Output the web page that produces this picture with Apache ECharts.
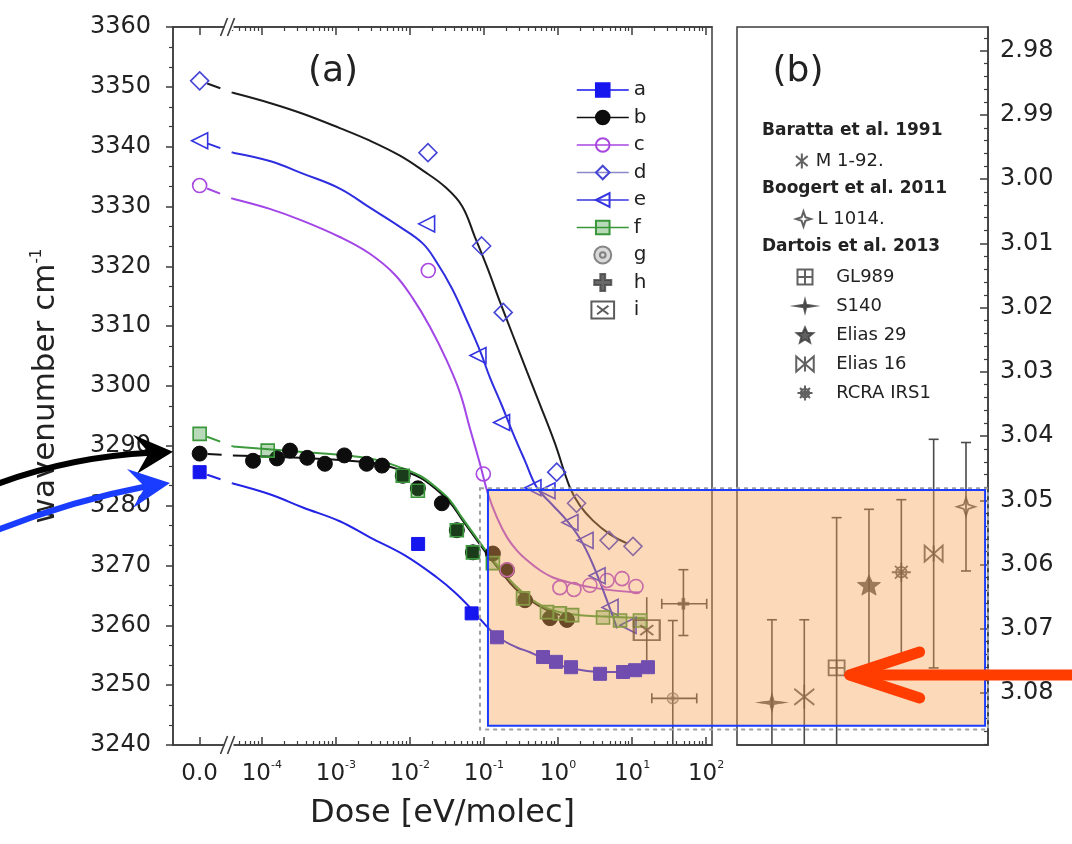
<!DOCTYPE html>
<html>
<head>
<meta charset="utf-8">
<script src="https://cdn.jsdelivr.net/npm/echarts@6/dist/echarts.min.js"></script>
<style>
  html, body { margin: 0; padding: 0; background: #fff; }
  #chart { width: 1072px; height: 844px; }
</style>
</head>
<body>
<div id="chart"></div>
<script>
// ---------- Panel (a): 3 µm band position versus irradiation dose ----------
// Measured points (dose in eV/molec, 0 = unirradiated ice; wavenumber in cm^-1)
const doseA = [0, 0.0129, 0.0682, 0.150, 0.627, 0.94, 1.50, 3.70, 7.55, 11.0, 16.4];
const wnA   = [3285.6, 3273.6, 3262.0, 3258.0, 3254.7, 3253.9, 3253.0, 3251.9, 3252.2, 3252.5, 3253.0];

const doseB = [0, 7.6e-5, 1.6e-4, 2.4e-4, 4.1e-4, 7.1e-4, 1.3e-3, 2.6e-3, 4.2e-3, 8.0e-3, 0.0128, 0.027, 0.043, 0.071, 0.132, 0.205, 0.358, 0.78, 1.32];
const wnB   = [3288.7, 3287.5, 3287.9, 3289.2, 3288.0, 3287.0, 3288.4, 3287.0, 3286.7, 3285.0, 3282.9, 3280.4, 3275.9, 3272.2, 3272.0, 3269.2, 3264.2, 3261.2, 3260.9];

const doseC = [0, 0.0177, 0.098, 0.205, 1.06, 1.64, 2.70, 4.59, 7.33, 11.3];
const wnC   = [3333.5, 3319.3, 3285.3, 3269.3, 3266.3, 3266.0, 3266.7, 3267.5, 3267.8, 3266.5];

const doseD = [0, 0.0175, 0.093, 0.182, 0.96, 1.78, 4.89, 10.3];
const wnD   = [3351.0, 3339.0, 3323.4, 3312.3, 3285.6, 3280.4, 3274.2, 3273.2];

const doseE = [0, 0.0168, 0.083, 0.173, 0.459, 0.71, 1.45, 2.32, 3.37, 5.05, 8.83];
const wnE   = [3341.0, 3327.1, 3305.1, 3293.9, 3283.0, 3282.5, 3277.2, 3274.2, 3268.3, 3263.0, 3260.0];

const doseF = [0, 1.2e-4, 8.0e-3, 0.0128, 0.043, 0.071, 0.132, 0.337, 0.71, 1.06, 1.55, 4.06, 6.89, 12.8];
const wnF   = [3292.0, 3289.2, 3285.0, 3282.5, 3275.9, 3272.2, 3270.4, 3264.5, 3262.2, 3262.0, 3261.7, 3261.3, 3260.8, 3260.8];

// Fitted curves (dose, wavenumber)
const fitDoseA = [4.06e-5, 1.28e-4, 3.58e-4, 1.13e-3, 2.88e-3, 8.55e-3, 0.0232, 0.0406, 0.0647, 0.094, 0.132, 0.192, 0.279, 0.419, 0.667, 1.06, 1.70, 2.97, 6.89, 14.1];
const fitWnA   = [3283.7, 3281.9, 3279.7, 3277.4, 3274.7, 3271.7, 3268.0, 3265.5, 3263.0, 3260.7, 3258.8, 3257.3, 3256.3, 3255.5, 3254.3, 3253.3, 3252.7, 3252.3, 3252.2, 3252.3];
const fitDoseB = [4.06e-5, 3.27e-4, 2.88e-3, 7.33e-3, 0.0137, 0.0218, 0.0348, 0.0505, 0.0755, 0.110, 0.164, 0.262, 0.419, 0.667, 1.06];
const fitWnB   = [3288.4, 3288.0, 3287.2, 3286.0, 3284.7, 3282.9, 3280.5, 3277.7, 3274.7, 3271.9, 3269.2, 3266.2, 3264.2, 3262.7, 3261.7];
const fitDoseC = [4.06e-5, 1.28e-4, 3.58e-4, 1.13e-3, 2.88e-3, 6.27e-3, 0.0110, 0.0186, 0.0316, 0.0474, 0.0647, 0.0883, 0.1132, 0.150, 0.205, 0.279, 0.381, 0.571, 0.855, 1.60, 2.97, 5.89, 12.8];
const fitWnC   = [3331.3, 3329.6, 3327.6, 3324.9, 3322.1, 3318.6, 3314.6, 3309.9, 3304.2, 3298.9, 3292.9, 3287.0, 3282.0, 3278.0, 3274.7, 3272.5, 3270.9, 3269.2, 3268.0, 3267.0, 3266.3, 3265.8, 3265.5];
const fitDoseD = [4.06e-5, 1.28e-4, 3.58e-4, 1.13e-3, 2.88e-3, 7.33e-3, 0.0150, 0.0297, 0.0505, 0.0755, 0.110, 0.164, 0.247, 0.381, 0.571, 0.910, 1.45, 1.98, 2.97, 5.05, 8.55];
const fitWnD   = [3349.0, 3347.3, 3345.5, 3343.1, 3341.0, 3338.5, 3336.0, 3333.3, 3330.1, 3324.9, 3319.9, 3314.1, 3308.4, 3302.4, 3296.9, 3290.4, 3283.0, 3280.0, 3277.5, 3275.2, 3273.7];
const fitDoseE = [4.06e-5, 1.28e-4, 3.58e-4, 1.13e-3, 2.88e-3, 7.33e-3, 0.0150, 0.0232, 0.0370, 0.0589, 0.0883, 0.1205, 0.175, 0.247, 0.358, 0.520, 0.830, 1.32, 1.98, 2.88, 4.32, 6.27];
const fitWnE   = [3339.0, 3337.6, 3335.5, 3333.0, 3329.8, 3326.6, 3323.8, 3320.6, 3316.3, 3310.9, 3305.9, 3301.4, 3296.7, 3292.1, 3287.5, 3283.0, 3280.2, 3277.5, 3274.5, 3270.5, 3265.0, 3259.5];
const fitDoseF = [4.06e-5, 3.27e-4, 2.88e-3, 7.33e-3, 0.0137, 0.0218, 0.0348, 0.0505, 0.0755, 0.110, 0.164, 0.262, 0.419, 0.667, 1.06, 1.98, 3.70, 15.0];
const fitWnF   = [3289.9, 3289.0, 3287.9, 3286.4, 3285.0, 3283.2, 3280.9, 3278.0, 3275.0, 3272.2, 3269.5, 3266.7, 3264.5, 3263.0, 3262.2, 3261.7, 3261.5, 3261.2];

// Points g, h, i with error bars: [dose, wn, wnLow, wnHigh, doseLow, doseHigh]
const pointG = [35.5, 3247.8, 3232.0, 3260.8, 18.5, 74.8];
const pointH = [49.4, 3263.6, 3258.3, 3269.3, 25.2, 102];
const pointI = [15.8, 3259.2, 3254.2, 3264.7, null, null];

// Dose axis tick labels
const zeroLabel = '0.0';
const doseExponents = [-4, -3, -2, -1, 0, 1, 2];

// ---------- Panel (b): interstellar ice band positions (µm) ----------
const sources    = ['S140', 'M 1-92.', 'GL989', 'Elias 29', 'RCRA IRS1', 'Elias 16', 'L 1014.'];
const lambdaPeak = [3.0815, 3.0806, 3.0761, 3.0632, 3.0612, 3.0583, 3.0510];
const lambdaLow  = [3.0686, 3.0686, 3.0527, 3.0514, 3.0499, 3.0405, 3.0410];
const lambdaHigh = [3.0950, 3.0950, 3.0950, 3.0759, 3.0745, 3.0761, 3.0610];
const wavelengthTicks = [2.98, 2.99, 3.00, 3.01, 3.02, 3.03, 3.04, 3.05, 3.06, 3.07, 3.08];

// ---------- axis geometry ----------
const X_MIN = -5.2, X_MAX = 2.08;     // log10(dose) range of panel (a)
const ZERO_POS = -4.84;               // where the unirradiated (dose 0) column sits
const BREAK_POS = -4.45;              // axis break between 0 and 1e-4
const L_MIN = 2.9763, L_MAX = 3.0881; // wavelength range of panel (b)
const BX_MIN = -0.08, BX_MAX = 7.68;

const FONT = 'DejaVu Sans';
const AXIS = '#3c3c3c';

const lx = d => (d === 0 ? ZERO_POS : Math.log10(d));
const pair = (ds, ws) => ds.map((d, i) => [lx(d), ws[i]]);

const majorDose = [ZERO_POS].concat(doseExponents);
const minorDose = [];
for (let n = -5; n <= 1; n++) {
  for (let k = 2; k <= 9; k++) {
    const v = n + Math.log10(k);
    if (v > BREAK_POS + 0.05 && v < X_MAX) minorDose.push(v);
  }
}
const minorLambda = [];
for (let i = 0; i <= 56; i++) {
  const v = Math.round((2.976 + i * 0.002) * 1000) / 1000;
  if (v >= L_MIN && v <= L_MAX && Math.round(v * 1000) % 10 !== 0) minorLambda.push(v);
}

function doseLabel(value) {
  if (Math.abs(value - ZERO_POS) < 1e-6) return '{base|' + zeroLabel + '}';
  return '{base|10}{sup|' + Math.round(value) + '}';
}

// ---------- series builders ----------
function markers(name, doses, wns, extra) {
  return Object.assign({
    name, type: 'line', xAxisIndex: 0, yAxisIndex: 0,
    data: pair(doses, wns),
    showSymbol: true, showAllSymbol: true,
    lineStyle: { width: 0, opacity: 0 },
    emphasis: { disabled: true }, z: 4
  }, extra);
}
function fitLine(doses, wns, color) {
  return {
    type: 'line', xAxisIndex: 0, yAxisIndex: 0,
    data: pair(doses, wns), symbol: 'none',
    smooth: 0.4,
    lineStyle: { color, width: 2 }, emphasis: { disabled: true }, z: 3
  };
}
function connector(wn0, fitDoses, fitWns, color) {
  return {
    type: 'line', xAxisIndex: 0, yAxisIndex: 0,
    data: [[ZERO_POS, wn0], [lx(fitDoses[0]), fitWns[0]]], symbol: 'none',
    lineStyle: { color, width: 2, type: [14, 12], dashOffset: 18 },
    emphasis: { disabled: true }, z: 3
  };
}
function errorBars(rows, xAxisIndex, yAxisIndex, cap) {
  return {
    type: 'custom', xAxisIndex, yAxisIndex, clip: true, z: 3,
    data: rows,
    encode: { x: 0, y: 1 },
    renderItem(params, api) {
      const x = api.value(0), yl = api.value(2), yh = api.value(3);
      const xl = api.value(4), xh = api.value(5), y = api.value(1);
      const st = { stroke: '#4a4a4a', lineWidth: 1.6 };
      const kids = [];
      const a = api.coord([x, yl]), b = api.coord([x, yh]);
      kids.push({ type: 'line', shape: { x1: a[0], y1: a[1], x2: b[0], y2: b[1] }, style: st });
      if (cap > 0) {
        kids.push({ type: 'line', shape: { x1: a[0] - cap, y1: a[1], x2: a[0] + cap, y2: a[1] }, style: st });
        kids.push({ type: 'line', shape: { x1: b[0] - cap, y1: b[1], x2: b[0] + cap, y2: b[1] }, style: st });
      }
      if (isFinite(xl) && isFinite(xh)) {
        const c = api.coord([xl, y]), d = api.coord([xh, y]);
        kids.push({ type: 'line', shape: { x1: c[0], y1: c[1], x2: d[0], y2: d[1] }, style: st });
        kids.push({ type: 'line', shape: { x1: c[0], y1: c[1] - cap, x2: c[0], y2: c[1] + cap }, style: st });
        kids.push({ type: 'line', shape: { x1: d[0], y1: d[1] - cap, x2: d[0], y2: d[1] + cap }, style: st });
      }
      return { type: 'group', children: kids };
    }
  };
}
const errRow = p => [lx(p[0]), p[1], p[2], p[3], p[4] == null ? NaN : lx(p[4]), p[5] == null ? NaN : lx(p[5])];

// symbols
const SYM = {
  g: 'path://M-6,0A6,6,0,1,0,6,0A6,6,0,1,0,-6,0ZM-2,0A2,2,0,1,0,2,0A2,2,0,1,0,-2,0Z',
  h: 'path://M-2,-7H2V-2H7V2H2V7H-2V2H-7V-2H-2Z',
  i: 'path://M-8,-6H8V6H-8ZM-4,-3L4,3M-4,3L4,-3',
  'S140': 'path://M0,-8L1.6,-1.6L12,0L1.6,1.6L0,8L-1.6,1.6L-12,0L-1.6,-1.6Z',
  'M 1-92.': 'path://M0,-9V9M-7,-6L7,6M-7,6L7,-6',
  'GL989': 'path://M-6,-6H6V6H-6ZM-6,0H6M0,-6V6',
  'Elias 29': 'path://M0,-9L2.6,-3.1L9,-2.8L4,1.3L5.6,7.5L0,4L-5.6,7.5L-4,1.3L-9,-2.8L-2.6,-3.1Z',
  'RCRA IRS1': 'path://M-5,0A5,5,0,1,0,5,0A5,5,0,1,0,-5,0ZM0,-9V9M-9,0H9M-6,-6L6,6M-6,6L6,-6',
  'Elias 16': 'path://M-7,-6L7,6V-6L-7,6ZM0,-6V6',
  'L 1014.': 'path://M0,-8L2,-2L8,0L2,2L0,8L-2,2L-8,0L-2,-2Z'
};
const SYM_SIZE = {
  'S140': [30, 18], 'M 1-92.': [20, 24], 'GL989': [16, 15], 'Elias 29': [23, 20],
  'RCRA IRS1': [19, 19], 'Elias 16': [18, 16], 'L 1014.': [18, 18]
};
const FILLED = { 'S140': true, 'Elias 29': true };

const series = [
  // fitted curves and dashed links to the unirradiated value
  connector(wnB[0], fitDoseB, fitWnB, '#111'),
  fitLine(fitDoseB, fitWnB, '#111'),
  connector(wnA[0], fitDoseA, fitWnA, '#2323e6'),
  fitLine(fitDoseA, fitWnA, '#2323e6'),
  connector(wnC[0], fitDoseC, fitWnC, '#a346e6'),
  fitLine(fitDoseC, fitWnC, '#a346e6'),
  connector(wnD[0], fitDoseD, fitWnD, '#1c1c1c'),
  fitLine(fitDoseD, fitWnD, '#1c1c1c'),
  connector(wnE[0], fitDoseE, fitWnE, '#2e2ee0'),
  fitLine(fitDoseE, fitWnE, '#2e2ee0'),
  connector(wnF[0], fitDoseF, fitWnF, '#3d9a3d'),
  fitLine(fitDoseF, fitWnF, '#3d9a3d'),
  // measured points
  markers('a', doseA, wnA, { symbol: 'rect', symbolSize: 13, itemStyle: { color: '#1616ee', borderColor: '#1616ee', borderWidth: 1 } }),
  markers('b', doseB, wnB, { symbol: 'circle', symbolSize: 15, itemStyle: { color: '#0d0d0d', borderColor: '#0d0d0d', borderWidth: 1 } }),
  markers('c', doseC, wnC, { symbol: 'circle', symbolSize: 14, itemStyle: { color: 'rgba(255,255,255,0)', borderColor: '#a846e0', borderWidth: 1.6 } }),
  markers('d', doseD, wnD, { symbol: 'diamond', symbolSize: 18, itemStyle: { color: 'rgba(255,255,255,0)', borderColor: '#4646d6', borderWidth: 1.6 } }),
  markers('e', doseE, wnE, { symbol: 'triangle', symbolRotate: 90, symbolSize: 16, itemStyle: { color: 'rgba(255,255,255,0)', borderColor: '#3434e0', borderWidth: 1.6 } }),
  markers('f', doseF, wnF, { symbol: 'rect', symbolSize: 13, itemStyle: { color: 'rgba(55,150,55,0.35)', borderColor: '#3a963a', borderWidth: 1.6 } }),
  errorBars([errRow(pointG), errRow(pointH)], 0, 0, 5),
  errorBars([errRow(pointI)], 0, 0, 0),
  { name: 'g', type: 'scatter', xAxisIndex: 0, yAxisIndex: 0, data: [[lx(pointG[0]), pointG[1]]], symbol: SYM.g, symbolSize: 11,
    itemStyle: { color: 'rgba(120,120,120,0.35)', borderColor: '#6a6a6a', borderWidth: 1.2 }, z: 4 },
  { name: 'h', type: 'scatter', xAxisIndex: 0, yAxisIndex: 0, data: [[lx(pointH[0]), pointH[1]]], symbol: SYM.h, symbolSize: 11,
    itemStyle: { color: '#444', borderColor: '#444', borderWidth: 0.5 }, z: 4 },
  { name: 'i', type: 'scatter', xAxisIndex: 0, yAxisIndex: 0, data: [[lx(pointI[0]), pointI[1]]], symbol: SYM.i, symbolSize: [26, 20],
    itemStyle: { color: 'rgba(255,255,255,0)', borderColor: '#333', borderWidth: 2 }, z: 5 },
  // panel (b)
  errorBars(sources.map((s, i) => [i + 1, lambdaPeak[i], lambdaLow[i], lambdaHigh[i], NaN, NaN]), 4, 2, 5)
];
sources.forEach((s, i) => {
  series.push({
    name: s, type: 'scatter', xAxisIndex: 4, yAxisIndex: 2,
    data: [[i + 1, lambdaPeak[i]]], symbol: SYM[s], symbolSize: SYM_SIZE[s],
    itemStyle: FILLED[s]
      ? { color: '#3a3a3a', borderColor: '#3a3a3a', borderWidth: 0.8 }
      : { color: 'rgba(255,255,255,0)', borderColor: '#3a3a3a', borderWidth: 1.8 },
    z: 4
  });
});

const lineAxis = { show: true, onZero: false, lineStyle: { color: AXIS, width: 1.5 } };
const tickStyle = { color: AXIS, width: 1.5 };

const legendText = { fontFamily: FONT, color: '#222' };

const option = {
  animation: false,
  backgroundColor: '#fff',
  textStyle: { fontFamily: FONT },
  grid: [
    { left: 173, top: 27, width: 539, height: 718, show: true, borderColor: AXIS, borderWidth: 1.5, outerBoundsMode: 'none' },
    { left: 737, top: 27, width: 251, height: 718, show: true, borderColor: AXIS, borderWidth: 1.5, outerBoundsMode: 'none' },
    { left: 173, top: 27, width: 539, height: 718, show: false, outerBoundsMode: 'none' },
    { left: 737, top: 27, width: 251, height: 718, show: false, outerBoundsMode: 'none' }
  ],
  xAxis: [
    { type: 'value', gridIndex: 0, position: 'bottom', min: X_MIN, max: X_MAX,
      axisLine: lineAxis,
      axisTick: { show: true, inside: true, length: 8, customValues: majorDose, lineStyle: tickStyle },
      axisLabel: { show: true, customValues: majorDose, formatter: doseLabel, margin: 15,
        rich: { base: { fontSize: 23, lineHeight: 28, color: '#222', fontFamily: FONT },
                sup: { fontSize: 11, lineHeight: 12, verticalAlign: 'top', color: '#222', fontFamily: FONT } } },
      splitLine: { show: false },
      name: 'Dose [eV/molec]', nameLocation: 'middle', nameGap: 53,
      nameTextStyle: { fontSize: 32, color: '#222', fontFamily: FONT } },
    { type: 'value', gridIndex: 0, position: 'top', min: X_MIN, max: X_MAX,
      axisLine: lineAxis,
      axisTick: { show: true, inside: true, length: 8, customValues: majorDose, lineStyle: tickStyle },
      axisLabel: { show: false }, splitLine: { show: false } },
    { type: 'value', gridIndex: 2, position: 'bottom', min: X_MIN, max: X_MAX,
      axisLine: { show: false, onZero: false },
      axisTick: { show: true, inside: true, length: 4, customValues: minorDose, lineStyle: { color: AXIS, width: 1.2 } },
      axisLabel: { show: false }, splitLine: { show: false } },
    { type: 'value', gridIndex: 2, position: 'top', min: X_MIN, max: X_MAX,
      axisLine: { show: false, onZero: false },
      axisTick: { show: true, inside: true, length: 4, customValues: minorDose, lineStyle: { color: AXIS, width: 1.2 } },
      axisLabel: { show: false }, splitLine: { show: false } },
    { type: 'value', gridIndex: 1, position: 'bottom', min: BX_MIN, max: BX_MAX,
      axisLine: lineAxis, axisTick: { show: false }, axisLabel: { show: false }, splitLine: { show: false } },
    { type: 'value', gridIndex: 3, position: 'bottom', min: BX_MIN, max: BX_MAX, show: false }
  ],
  yAxis: [
    { type: 'value', gridIndex: 0, position: 'left', min: 3240, max: 3360, interval: 10,
      axisLine: lineAxis,
      axisTick: { show: true, inside: false, length: 7, lineStyle: tickStyle },
      minorTick: { show: true, splitNumber: 3, length: 4, lineStyle: { color: AXIS, width: 1.2 } },
      axisLabel: { fontSize: 24, color: '#222', margin: 22, fontFamily: FONT, formatter: v => String(v) },
      splitLine: { show: false }, minorSplitLine: { show: false },
      name: 'wavenumber cm{sup|-1}', nameLocation: 'middle', nameGap: 112, nameRotate: 90,
      nameTextStyle: { fontSize: 31, color: '#222', fontFamily: FONT,
        rich: { sup: { fontSize: 15, lineHeight: 15, verticalAlign: 'top', color: '#222', fontFamily: FONT } } } },
    { type: 'value', gridIndex: 2, min: 3240, max: 3360, show: false },
    { type: 'value', gridIndex: 1, position: 'right', inverse: true, min: L_MIN, max: L_MAX,
      axisLine: lineAxis,
      axisTick: { show: true, inside: true, length: 8, customValues: wavelengthTicks, lineStyle: tickStyle },
      axisLabel: { show: true, customValues: wavelengthTicks, formatter: v => v.toFixed(2),
        fontSize: 24, color: '#222', margin: 12, fontFamily: FONT },
      splitLine: { show: false } },
    { type: 'value', gridIndex: 3, position: 'right', inverse: true, min: L_MIN, max: L_MAX,
      axisLine: { show: false, onZero: false },
      axisTick: { show: true, inside: true, length: 4, customValues: minorLambda, lineStyle: { color: AXIS, width: 1.2 } },
      axisLabel: { show: false }, splitLine: { show: false } }
  ],
  legend: [
    { left: 571, top: 75, orient: 'vertical', itemWidth: 52, itemHeight: 17, itemGap: 7.5, selectedMode: false,
      textStyle: Object.assign({ fontSize: 20, lineHeight: 17 }, legendText),
      data: [
        { name: 'a', lineStyle: { color: '#1616ee', width: 1.5, opacity: 1, type: 'solid' } },
        { name: 'b', lineStyle: { color: '#111', width: 1.5, opacity: 1, type: 'solid' } },
        { name: 'c', lineStyle: { color: '#a846e0', width: 1.5, opacity: 1, type: 'solid' } },
        { name: 'd', lineStyle: { color: '#8a8ac8', width: 1.5, opacity: 1, type: 'solid' } },
        { name: 'e', lineStyle: { color: '#3434e0', width: 1.5, opacity: 1, type: 'solid' } },
        { name: 'f', lineStyle: { color: '#3a963a', width: 1.5, opacity: 1, type: 'solid' } },
        'g', 'h', 'i'
      ] },
    { left: 790, top: 147, orient: 'vertical', itemWidth: 18, itemHeight: 15, selectedMode: false,
      textStyle: Object.assign({ fontSize: 18, lineHeight: 15 }, legendText), data: ['M 1-92.'] },
    { left: 790, top: 205, orient: 'vertical', itemWidth: 18, itemHeight: 15, selectedMode: false,
      textStyle: Object.assign({ fontSize: 18, lineHeight: 15 }, legendText), data: ['L 1014.'] },
    { left: 790, top: 263, orient: 'vertical', itemWidth: 18, itemHeight: 15, itemGap: 11, selectedMode: false,
      formatter: '   {name}',
      textStyle: Object.assign({ fontSize: 18, lineHeight: 15 }, legendText),
      data: ['GL989', 'S140', 'Elias 29', 'Elias 16', 'RCRA IRS1'] }
  ],
  series
};

const chart = echarts.init(document.getElementById('chart'));
chart.setOption(option);

// ---------- annotations: panel labels, axis breaks, highlight box, arrows ----------
const toA = v => chart.convertToPixel({ xAxisIndex: 0, yAxisIndex: 0 }, v);
const toB = v => chart.convertToPixel({ xAxisIndex: 4, yAxisIndex: 2 }, v);

const g = [];
g.push({ type: 'text', z: 120, style: { x: 333, y: 72, text: '(a)', fontSize: 36, fontFamily: FONT, fill: '#222', align: 'center', verticalAlign: 'middle' } });
g.push({ type: 'text', z: 120, style: { x: 798, y: 72, text: '(b)', fontSize: 36, fontFamily: FONT, fill: '#222', align: 'center', verticalAlign: 'middle' } });

const headings = [['Baratta et al. 1991', 131], ['Boogert et al. 2011', 189], ['Dartois et al. 2013', 247]];
headings.forEach(([t, y]) => g.push({ type: 'text', z: 120,
  style: { x: 762, y, text: t, fontSize: 17, fontWeight: 'bold', fontFamily: FONT, fill: '#222', align: 'left', verticalAlign: 'middle' } }));

// axis break marks on the dose axis
const bx = toA([BREAK_POS, 3300])[0];
[toA([0, 3240])[1], toA([0, 3360])[1]].forEach(yy => {
  g.push({ type: 'rect', z: 60, shape: { x: bx - 4, y: yy - 3, width: 9, height: 6 }, style: { fill: '#fff' } });
  g.push({ type: 'line', z: 61, shape: { x1: bx - 8, y1: yy + 9, x2: bx - 1, y2: yy - 9 }, style: { stroke: AXIS, lineWidth: 1.6 } });
  g.push({ type: 'line', z: 61, shape: { x1: bx - 1, y1: yy + 9, x2: bx + 6, y2: yy - 9 }, style: { stroke: AXIS, lineWidth: 1.6 } });
});

// dashed zoom frame and highlighted region
const dLT = toA([-1.054, 3282.9]), dB = toA([0, 3242.6])[1], dR = toB([BX_MAX, 3.0])[0];
g.push({ type: 'rect', z: 99, shape: { x: dLT[0], y: dLT[1], width: dR - dLT[0], height: dB - dLT[1] },
  style: { fill: 'none', stroke: '#a0a0a0', lineWidth: 2, lineDash: [4, 4] } });
const oLT = toA([-0.946, 3282.6]), oB = toA([0, 3243.2])[1], oR = toB([7.59, 3.0])[0];
g.push({ type: 'rect', z: 100, shape: { x: oLT[0], y: oLT[1], width: oR - oLT[0], height: oB - oLT[1] },
  style: { fill: 'rgba(247,160,80,0.4)', stroke: '#1a3cff', lineWidth: 2 } });

// arrows pointing at the unirradiated values
function arrowHead(tip, pts, color) {
  return { type: 'polygon', z: 110, shape: { points: pts.map(p => [tip[0] + p[0], tip[1] + p[1]]) }, style: { fill: color } };
}
const tipK = toA([X_MIN, 3289.0]);
g.push({ type: 'bezierCurve', z: 110, shape: { x1: -5, y1: tipK[1] + 33, cpx1: 70, cpy1: tipK[1] + 5, x2: tipK[0] - 22, y2: tipK[1] + 1 },
  style: { stroke: '#000', lineWidth: 6, fill: 'none' } });
g.push(arrowHead(tipK, [[0, 0], [-40, -17], [-24, 1], [-36, 22]], '#000'));
const tipU = [toA([X_MIN, 3283.8])[0] - 3, toA([X_MIN, 3283.8])[1]];
g.push({ type: 'bezierCurve', z: 110, shape: { x1: -5, y1: tipU[1] + 48, cpx1: 70, cpy1: tipU[1] + 18, x2: tipU[0] - 22, y2: tipU[1] + 3 },
  style: { stroke: '#1a3cff', lineWidth: 6, fill: 'none' } });
g.push(arrowHead(tipU, [[0, 0], [-43, -14], [-25, 4], [-37, 25]], '#1a3cff'));

// arrow pointing at GL989
const pG = toB([3, lambdaPeak[2]]);
const tipR = [pG[0] + 11, pG[1] + 7];
g.push({ type: 'line', z: 110, shape: { x1: tipR[0] + 6, y1: tipR[1], x2: 1090, y2: tipR[1] },
  style: { stroke: '#ff3d00', lineWidth: 11, lineCap: 'round' } });
g.push({ type: 'polyline', z: 110, shape: { points: [[tipR[0] + 72, tipR[1] - 23], [tipR[0] + 2, tipR[1]], [tipR[0] + 72, tipR[1] + 23]] },
  style: { stroke: '#ff3d00', lineWidth: 11, lineCap: 'round', lineJoin: 'round', fill: 'none' } });

chart.setOption({ graphic: g });
</script>
</body>
</html>
